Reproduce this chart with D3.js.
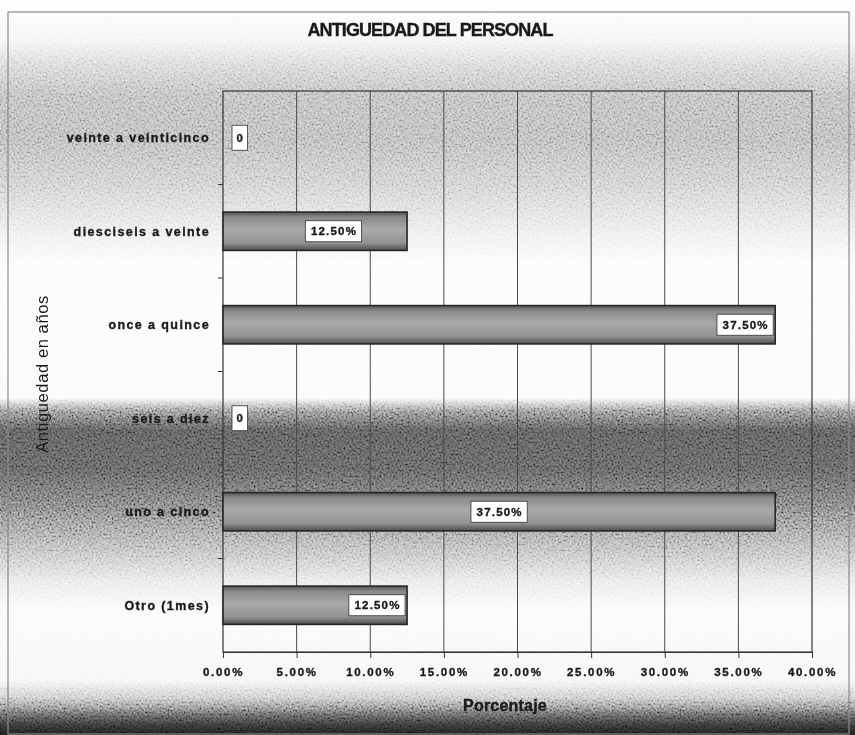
<!DOCTYPE html>
<html>
<head>
<meta charset="utf-8">
<script src="https://cdn.jsdelivr.net/npm/d3@7/dist/d3.min.js"></script>
<style>
  html, body { margin: 0; padding: 0; background: #fff; }
  svg { display: block; }
  text { font-family: Arial, "Liberation Sans", sans-serif; fill: #1a1a1a; }
  .heavy { stroke: #1a1a1a; stroke-width: 0.35px; }
</style>
</head>
<body>
<svg id="chart" width="855" height="735"></svg>
<script>
// Antigüedad del personal: share of staff per seniority bracket (top to bottom)
const categories = ["veinte a veinticinco", "diesciseis a veinte", "once a quince", "seis a diez", "uno a cinco", "Otro (1mes)"];
const values = [0, 12.5, 37.5, 0, 37.5, 12.5];
const valueLabels = ["0", "12.50%", "37.50%", "0", "37.50%", "12.50%"];
const xTicks = [0, 5, 10, 15, 20, 25, 30, 35, 40];
const xTickLabels = ["0.00%", "5.00%", "10.00%", "15.00%", "20.00%", "25.00%", "30.00%", "35.00%", "40.00%"];
// where each value box sits along its bar (0 = start, 1 = end)
const labelAnchor = [0, 0.6, 1, 0, 0.5, 1];

const W = 855, H = 735;
const plot = { left: 223, right: 812, top: 91, bottom: 652 };

const svg = d3.select("#chart");
const defs = svg.append("defs");

// page shading
const bg = defs.append("linearGradient").attr("id", "bgGrad")
  .attr("gradientUnits", "userSpaceOnUse").attr("x1", 0).attr("y1", 0).attr("x2", 0).attr("y2", H);
[[0, "#ffffff"], [40, "#f4f4f4"], [65, "#d4d4d4"], [95, "#b6b6b6"], [140, "#b2b2b2"], [185, "#cacaca"],
 [235, "#eeeeee"], [265, "#fcfcfc"], [398, "#fbfbfb"], [412, "#848484"], [430, "#555555"], [470, "#5a5a5a"],
 [510, "#7a7a7a"], [545, "#b0b0b0"], [580, "#e6e6e6"], [610, "#fbfbfb"], [680, "#f6f6f6"], [698, "#c4c4c4"],
 [712, "#6a6a6a"], [724, "#363636"], [735, "#1a1a1a"]]
  .forEach(([y, c]) => bg.append("stop").attr("offset", y / H).attr("stop-color", c));

// film grain texture
const grain = defs.append("filter").attr("id", "grain").attr("x", 0).attr("y", 0).attr("width", "100%").attr("height", "100%");
grain.append("feTurbulence").attr("type", "fractalNoise").attr("baseFrequency", 0.5).attr("numOctaves", 3).attr("seed", 7);
grain.append("feColorMatrix").attr("type", "matrix")
  .attr("values", "1 0 0 0 0  1 0 0 0 0  1 0 0 0 0  0 0 0 0 1");
const ct = grain.append("feComponentTransfer");
["feFuncR", "feFuncG", "feFuncB"].forEach(f => ct.append(f).attr("type", "linear").attr("slope", 2).attr("intercept", -0.5));

// bar shading
const barGrad = defs.append("linearGradient").attr("id", "barGrad").attr("x1", 0).attr("y1", 0).attr("x2", 0).attr("y2", 1);
[[0, "#555"], [0.14, "#8a8a8a"], [0.45, "#a9a9a9"], [0.8, "#939393"], [1, "#4e4e4e"]]
  .forEach(([o, c]) => barGrad.append("stop").attr("offset", o).attr("stop-color", c));

svg.append("rect").attr("width", W).attr("height", H).attr("fill", "url(#bgGrad)");
svg.append("rect").attr("width", W).attr("height", H).attr("filter", "url(#grain)")
  .style("mix-blend-mode", "overlay").attr("opacity", 0.55);

// outer frame
svg.append("rect").attr("x", 8).attr("y", 12).attr("width", 841).attr("height", 722)
  .attr("fill", "none").attr("stroke", "#8a8a8a").attr("stroke-width", 1.2);

const x = d3.scaleLinear().domain([0, 40]).range([plot.left, plot.right]);
const y = d3.scaleBand().domain(categories).range([plot.top, plot.bottom]).paddingInner(0.59).paddingOuter(0.295);
const yBand = d3.scaleBand().domain(categories).range([plot.top, plot.bottom]);

// vertical gridlines
svg.append("g").selectAll("line").data(xTicks.slice(1, -1)).join("line")
  .attr("x1", d => x(d)).attr("x2", d => x(d)).attr("y1", plot.top).attr("y2", plot.bottom)
  .attr("stroke", "#4a4a4a").attr("stroke-width", 1);

// plot border
svg.append("rect").attr("x", plot.left).attr("y", plot.top)
  .attr("width", plot.right - plot.left).attr("height", plot.bottom - plot.top)
  .attr("fill", "none").attr("stroke", "#333").attr("stroke-width", 1.2);

// x axis
const xAxis = svg.append("g").attr("transform", `translate(0,${plot.bottom})`)
  .call(d3.axisBottom(x).tickValues(xTicks).tickSize(6).tickFormat((d, i) => xTickLabels[i]));
xAxis.select(".domain").attr("stroke", "#333");
xAxis.selectAll(".tick line").attr("stroke", "#333");
xAxis.selectAll(".tick text").attr("dy", 0).attr("y", 24).attr("class", "heavy")
  .style("font-size", "11.5px").style("font-weight", "bold").style("letter-spacing", "1.7px")
  .style("font-family", "Arial, 'Liberation Sans', sans-serif").attr("fill", "#1a1a1a");

// y axis ticks between categories
svg.append("g").selectAll("line").data(categories.slice(1)).join("line")
  .attr("x1", plot.left - 5).attr("x2", plot.left)
  .attr("y1", d => yBand(d)).attr("y2", d => yBand(d))
  .attr("stroke", "#333");

// category labels
svg.append("g").selectAll("text").data(categories).join("text")
  .attr("class", "heavy")
  .attr("x", 210).attr("y", d => y(d) + y.bandwidth() / 2).attr("dy", "0.35em")
  .attr("text-anchor", "end")
  .style("font-size", "12.5px").style("font-weight", "bold").style("letter-spacing", "1.4px")
  .text(d => d);

// bars
svg.append("g").selectAll("rect").data(categories).join("rect")
  .filter((d, i) => values[i] > 0)
  .attr("x", x(0)).attr("y", d => y(d))
  .attr("width", d => x(values[categories.indexOf(d)]) - x(0))
  .attr("height", y.bandwidth())
  .attr("fill", "url(#barGrad)").attr("stroke", "#262626").attr("stroke-width", 1.6);

// value boxes
const lab = svg.append("g").selectAll("g").data(categories).join("g");
lab.each(function (d, i) {
  const g = d3.select(this);
  const t = g.append("text").text(valueLabels[i]).attr("class", "heavy")
    .style("font-size", "11.5px").style("font-weight", "bold").style("letter-spacing", "1.2px")
    .attr("text-anchor", "middle").attr("dy", "0.35em");
  const tw = t.node().getComputedTextLength();
  const bw = tw + (values[i] > 0 ? 10 : 8), bh = values[i] > 0 ? 21 : 25;
  const x0 = x(0), x1 = x(values[i]);
  let cx;
  if (values[i] === 0) cx = x0 + 9 + bw / 2;
  else {
    cx = x0 + (x1 - x0) * labelAnchor[i];
    cx = Math.min(Math.max(cx, x0 + 2 + bw / 2), x1 - 2 - bw / 2);
  }
  const cy = y(d) + y.bandwidth() / 2;
  g.insert("rect", "text").attr("x", cx - bw / 2).attr("y", cy - bh / 2).attr("width", bw).attr("height", bh)
    .attr("fill", "#fff").attr("stroke", "#333").attr("stroke-width", 0.8);
  t.attr("x", cx + 0.6).attr("y", cy);
});

// titles
svg.append("text").attr("x", 430).attr("y", 36).attr("text-anchor", "middle").attr("class", "heavy")
  .style("font-size", "18px").style("font-weight", "bold").style("letter-spacing", "-0.9px")
  .text("ANTIGUEDAD DEL PERSONAL");

svg.append("text").attr("x", 505).attr("y", 711).attr("text-anchor", "middle").attr("class", "heavy")
  .style("font-size", "16px").style("font-weight", "bold").style("letter-spacing", "0.2px")
  .text("Porcentaje");

svg.append("text").attr("transform", "translate(48,374) rotate(-90)").attr("text-anchor", "middle")
  .style("font-size", "16.5px").style("letter-spacing", "0.6px")
  .text("Antiguedad en años");
</script>
</body>
</html>
